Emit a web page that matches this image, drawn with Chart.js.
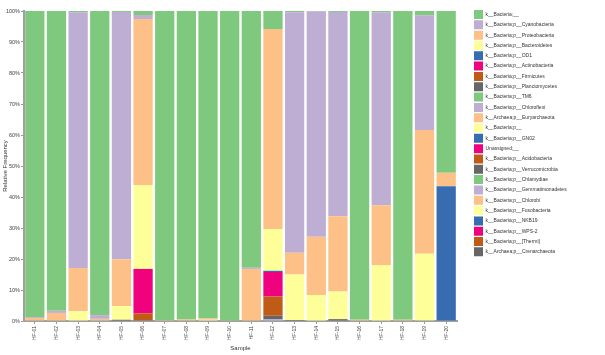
<!DOCTYPE html>
<html><head><meta charset="utf-8">
<script src="https://cdn.jsdelivr.net/npm/chart.js@4"></script>
<style>html,body{margin:0;padding:0;background:#fff}#wrap{width:605px;height:355px;position:relative}</style>
</head><body><div id="wrap"><canvas id="c"></canvas></div>
<script>
const samples = ['HF-01','HF-02','HF-03','HF-04','HF-05','HF-06','HF-07','HF-08','HF-09','HF-10','HF-11','HF-12','HF-13','HF-14','HF-15','HF-16','HF-17','HF-18','HF-19','HF-20'];
const taxa = ['k__Bacteria;__','k__Bacteria;p__Cyanobacteria','k__Bacteria;p__Proteobacteria','k__Bacteria;p__Bacteroidetes','k__Bacteria;p__OD1','k__Bacteria;p__Actinobacteria','k__Bacteria;p__Firmicutes','k__Bacteria;p__Planctomycetes','k__Bacteria;p__TM6','k__Bacteria;p__Chloroflexi','k__Archaea;p__Euryarchaeota','k__Bacteria;p__','k__Bacteria;p__GN02','Unassigned;__','k__Bacteria;p__Acidobacteria','k__Bacteria;p__Verrucomicrobia','k__Bacteria;p__Chlamydiae','k__Bacteria;p__Gemmatimonadetes','k__Bacteria;p__Chlorobi','k__Bacteria;p__Fusobacteria','k__Bacteria;p__NKB19','k__Bacteria;p__WPS-2','k__Bacteria;p__[Thermi]','k__Archaea;p__Crenarchaeota'];
const palette = ['#7fc97f','#beaed4','#fdc086','#ffff99','#386cb0','#f0027f','#bf5b17','#666666'];

const bacteriaUnclassified = [98.7,96.7,0.4,98.1,0.3,1.3,99.7,99.5,99.2,99.8,82.8,5.8,0.4,0.1,0.3,99.6,0.4,99.6,1.4,52.2];
const cyanobacteria   = [0.3,0.7,82.5,1.2,79.8,1.3,0,0,0,0,0.4,0,77.6,72.7,65.9,0,62.3,0,37.0,0];
const proteobacteria  = [1.0,2.6,13.9,0.7,15.1,53.5,0.3,0.5,0.4,0.2,16.8,64.5,7.0,18.8,24.3,0.4,19.2,0.4,39.9,4.3];
const bacteroidetes   = [0,0,3.2,0,4.4,27.1,0,0,0.4,0,0,13.5,14.7,8.4,8.9,0,18.1,0,21.5,0];
const od1             = [0,0,0,0,0,0,0,0,0,0,0,0.4,0,0,0,0,0,0,0,43.5];
const actinobacteria  = [0,0,0,0,0,14.3,0,0,0,0,0,7.9,0,0,0,0,0,0,0,0];
const firmicutes      = [0,0,0,0,0,2.3,0,0,0,0,0,6.2,0,0,0,0,0,0,0,0];
const planctomycetes  = [0,0,0,0,0.4,0.2,0,0,0,0,0,1.2,0.3,0,0.6,0,0,0,0.2,0];
const tm6             = [0,0,0,0,0,0,0,0,0,0,0,0,0,0,0,0,0,0,0,0];
const chloroflexi     = [0,0,0,0,0,0,0,0,0,0,0,0.5,0,0,0,0,0,0,0,0];
const euryarchaeota   = [0,0,0,0,0,0,0,0,0,0,0,0,0,0,0,0,0,0,0,0];
const bacteriaP       = [0,0,0,0,0,0,0,0,0,0,0,0,0,0,0,0,0,0,0,0];
const gn02            = [0,0,0,0,0,0,0,0,0,0,0,0,0,0,0,0,0,0,0,0];
const unassigned      = [0,0,0,0,0,0,0,0,0,0,0,0,0,0,0,0,0,0,0,0];
const acidobacteria   = [0,0,0,0,0,0,0,0,0,0,0,0,0,0,0,0,0,0,0,0];
const verrucomicrobia = [0,0,0,0,0,0,0,0,0,0,0,0,0,0,0,0,0,0,0,0];
const chlamydiae      = [0,0,0,0,0,0,0,0,0,0,0,0,0,0,0,0,0,0,0,0];
const gemmatimonadetes= [0,0,0,0,0,0,0,0,0,0,0,0,0,0,0,0,0,0,0,0];
const chlorobi        = [0,0,0,0,0,0,0,0,0,0,0,0,0,0,0,0,0,0,0,0];
const fusobacteria    = [0,0,0,0,0,0,0,0,0,0,0,0,0,0,0,0,0,0,0,0];
const nkb19           = [0,0,0,0,0,0,0,0,0,0,0,0,0,0,0,0,0,0,0,0];
const wps2            = [0,0,0,0,0,0,0,0,0,0,0,0,0,0,0,0,0,0,0,0];
const thermi          = [0,0,0,0,0,0,0,0,0,0,0,0,0,0,0,0,0,0,0,0];
const crenarchaeota   = [0,0,0,0,0,0,0,0,0,0,0,0,0,0,0,0,0,0,0,0];

const seriesValues = [bacteriaUnclassified,cyanobacteria,proteobacteria,bacteroidetes,od1,actinobacteria,firmicutes,planctomycetes,tm6,chloroflexi,euryarchaeota,bacteriaP,gn02,unassigned,acidobacteria,verrucomicrobia,chlamydiae,gemmatimonadetes,chlorobi,fusobacteria,nkb19,wps2,thermi,crenarchaeota];
const yTicks = [0,10,20,30,40,50,60,70,80,90,100];

// first series drawn on top: build datasets in reverse, legend reversed back
const datasets = taxa.map((t,i)=>({
  label:t, data:seriesValues[i],
  backgroundColor:palette[i%palette.length], borderWidth:0,
  barPercentage:0.89, categoryPercentage:1
})).reverse();

const legendPlacer = {
  id:'legendPlacer',
  beforeLayout(chart){
    const lg = chart.legend;
    if(lg && !lg._fx){ const f = lg.fit; lg.fit = function(){ f.call(this); this.width = 148; }; lg._fx = true; }
  },
  afterLayout(chart){
    const lg = chart.legend; if(!lg) return;
    const p = lg.options.labels.padding;
    lg.left = 474 - p; lg.right = 605; lg.top = 10 - p;
  }
};

const FONT = "'Liberation Sans', Arial, sans-serif";
new Chart(document.getElementById('c'), {
  type:'bar',
  data:{labels:samples, datasets},
  plugins:[legendPlacer],
  options:{
    responsive:true, maintainAspectRatio:false, animation:false,
    layout:{padding:{top:11,left:0,right:0,bottom:0}},
    plugins:{
      legend:{position:'right', align:'start', reverse:true,
        labels:{boxWidth:9, boxHeight:9, padding:1.32, color:'#333', font:{family:FONT,size:5}}},
      tooltip:{enabled:false}
    },
    scales:{
      x:{stacked:true,
        afterFit(s){ s.height = 34; },
        grid:{display:true, drawOnChartArea:false, drawTicks:true, tickLength:3, color:'#999', offset:false},
        border:{display:true, color:'#a0a0a0', width:2},
        ticks:{autoSkip:false, minRotation:90, maxRotation:90, padding:2, color:'#444', font:{family:FONT,size:5}},
        title:{display:true, text:'Sample', color:'#333', font:{family:FONT,size:6}, padding:{top:2,bottom:3}}
      },
      y:{stacked:true, min:0, max:100,
        afterFit(s){ s.width = 24; },
        afterBuildTicks(s){ s.ticks = yTicks.map(v=>({value:v})); },
        grid:{display:true, drawOnChartArea:false, drawTicks:true, tickLength:3, color:'#999'},
        border:{display:true, color:'#a0a0a0', width:2},
        ticks:{padding:1, color:'#444', font:{family:FONT,size:5.5}, callback:v=>v+'%'},
        title:{display:true, text:'Relative Frequency', color:'#333', font:{family:FONT,size:6}, padding:{top:2,bottom:2}}
      }
    }
  }
});
</script></body></html>
